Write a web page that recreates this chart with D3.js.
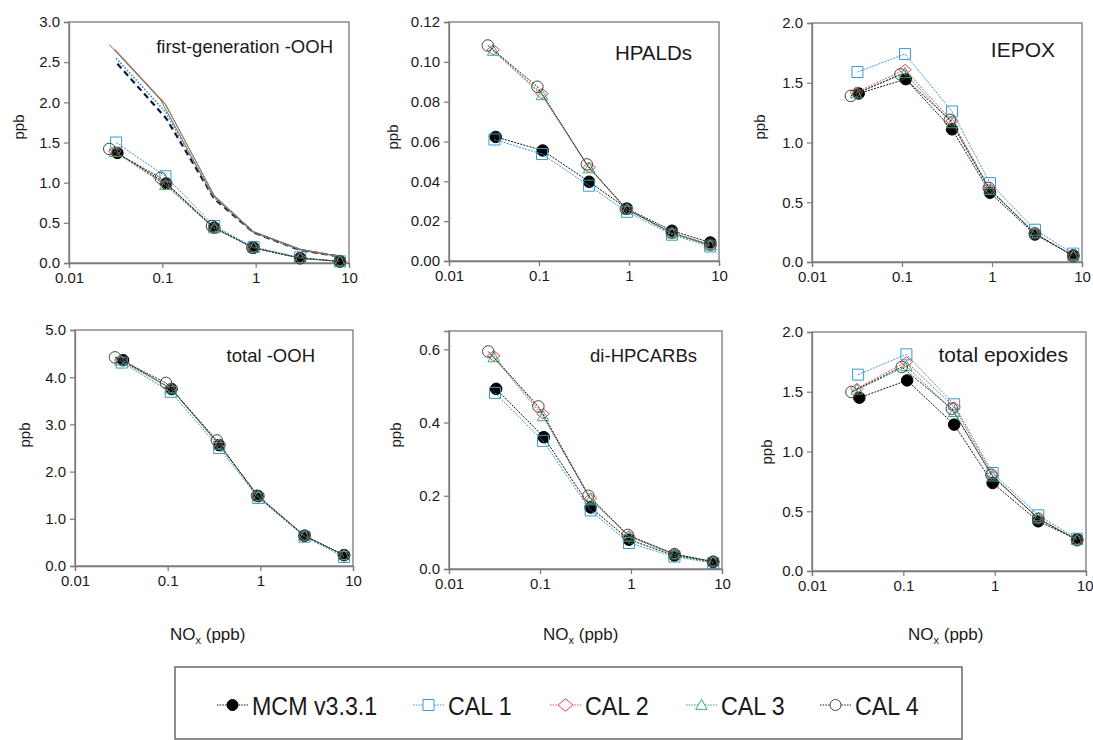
<!DOCTYPE html>
<html><head><meta charset="utf-8">
<script src="https://cdn.jsdelivr.net/npm/d3@7"></script>
<style>
body{margin:0;background:#fff}
svg{display:block}
text{font-family:"Liberation Sans",Arial,sans-serif;fill:#1a1a1a}
</style></head>
<body><svg id="c" width="1093" height="740"></svg>
<script>
// ---------- DATA ----------
const models = ["MCM v3.3.1", "CAL 1", "CAL 2", "CAL 3", "CAL 4"];
// NOx (ppb) x-values of each model's points
const noxMCM  = [0.033, 0.110, 0.36, 0.95, 3.0, 8.0];
const noxCAL1 = [0.032, 0.108, 0.36, 0.95, 3.0, 8.0];
const noxCAL2 = [0.031, 0.108, 0.36, 0.95, 3.0, 8.0];
const noxCAL3 = [0.031, 0.108, 0.36, 0.95, 3.0, 8.0];
const noxCAL4 = [0.027, 0.096, 0.34, 0.92, 3.0, 8.0];
const xTicks = [0.01, 0.1, 1, 10];
const xTickLabels = ["0.01", "0.1", "1", "10"];

const panelTitles = ["first-generation -OOH", "HPALDs", "IEPOX", "total -OOH", "di-HPCARBs", "total epoxides"];

// first-generation -OOH (with markers)
const fgOOH_MCM  = [1.37, 0.99, 0.44, 0.19, 0.06, 0.02];
const fgOOH_CAL1 = [1.50, 1.08, 0.46, 0.20, 0.07, 0.02];
const fgOOH_CAL2 = [1.39, 0.98, 0.43, 0.19, 0.06, 0.02];
const fgOOH_CAL3 = [1.38, 0.97, 0.43, 0.19, 0.06, 0.02];
const fgOOH_CAL4 = [1.42, 1.06, 0.46, 0.19, 0.06, 0.02];
// first-generation -OOH upper curves (lines only)
const fgOOHup_MCM  = [2.48, 1.80, 0.80, 0.38, 0.16, 0.08];
const fgOOHup_CAL1 = [2.55, 1.88, 0.82, 0.38, 0.16, 0.08];
const fgOOHup_CAL2 = [2.66, 1.98, 0.84, 0.39, 0.17, 0.08];
const fgOOHup_CAL3 = [2.65, 1.97, 0.84, 0.39, 0.17, 0.08];
const fgOOHup_CAL4 = [2.72, 2.03, 0.85, 0.39, 0.17, 0.08];

const hpald_MCM  = [0.0623, 0.0555, 0.0398, 0.0263, 0.0152, 0.0093];
const hpald_CAL1 = [0.0610, 0.0537, 0.0378, 0.0247, 0.0132, 0.0073];
const hpald_CAL2 = [0.1060, 0.0840, 0.0470, 0.0260, 0.0140, 0.0080];
const hpald_CAL3 = [0.1055, 0.0832, 0.0465, 0.0258, 0.0138, 0.0078];
const hpald_CAL4 = [0.1082, 0.0875, 0.0485, 0.0262, 0.0142, 0.0082];

const iepox_MCM  = [1.41, 1.53, 1.11, 0.58, 0.23, 0.055];
const iepox_CAL1 = [1.59, 1.74, 1.26, 0.66, 0.27, 0.07];
const iepox_CAL2 = [1.42, 1.61, 1.18, 0.61, 0.24, 0.05];
const iepox_CAL3 = [1.41, 1.58, 1.16, 0.60, 0.24, 0.05];
const iepox_CAL4 = [1.39, 1.57, 1.19, 0.62, 0.24, 0.05];

const totOOH_MCM  = [4.36, 3.75, 2.56, 1.48, 0.64, 0.23];
const totOOH_CAL1 = [4.31, 3.69, 2.50, 1.44, 0.62, 0.19];
const totOOH_CAL2 = [4.36, 3.77, 2.58, 1.48, 0.64, 0.23];
const totOOH_CAL3 = [4.35, 3.76, 2.57, 1.48, 0.64, 0.23];
const totOOH_CAL4 = [4.42, 3.88, 2.66, 1.49, 0.64, 0.23];

const dihp_MCM  = [0.492, 0.360, 0.168, 0.080, 0.037, 0.019];
const dihp_CAL1 = [0.481, 0.350, 0.160, 0.071, 0.034, 0.016];
const dihp_CAL2 = [0.582, 0.424, 0.193, 0.090, 0.040, 0.020];
const dihp_CAL3 = [0.578, 0.417, 0.190, 0.088, 0.040, 0.020];
const dihp_CAL4 = [0.594, 0.444, 0.200, 0.093, 0.041, 0.020];

const epox_MCM  = [1.450, 1.595, 1.225, 0.736, 0.416, 0.265];
const epox_CAL1 = [1.643, 1.813, 1.395, 0.820, 0.466, 0.270];
const epox_CAL2 = [1.526, 1.750, 1.372, 0.800, 0.440, 0.260];
const epox_CAL3 = [1.517, 1.713, 1.330, 0.790, 0.440, 0.260];
const epox_CAL4 = [1.498, 1.707, 1.358, 0.806, 0.438, 0.257];

const yDomains = [[0, 3.0], [0, 0.12], [0, 2.0], [0, 5.0], [0, 0.65], [0, 2.0]];
const yTickValues = [
  [0, 0.5, 1.0, 1.5, 2.0, 2.5, 3.0],
  [0, 0.02, 0.04, 0.06, 0.08, 0.10, 0.12],
  [0, 0.5, 1.0, 1.5, 2.0],
  [0, 1, 2, 3, 4, 5],
  [0, 0.2, 0.4, 0.6],
  [0, 0.5, 1.0, 1.5, 2.0]
];
const yTickFormats = [".1f", ".2f", ".1f", ".1f", ".1f", ".1f"];

// ---------- STYLE / LAYOUT ----------
const noxByModel = [noxMCM, noxCAL1, noxCAL2, noxCAL3, noxCAL4];
const panelSeries = [
  [fgOOH_MCM, fgOOH_CAL1, fgOOH_CAL2, fgOOH_CAL3, fgOOH_CAL4],
  [hpald_MCM, hpald_CAL1, hpald_CAL2, hpald_CAL3, hpald_CAL4],
  [iepox_MCM, iepox_CAL1, iepox_CAL2, iepox_CAL3, iepox_CAL4],
  [totOOH_MCM, totOOH_CAL1, totOOH_CAL2, totOOH_CAL3, totOOH_CAL4],
  [dihp_MCM, dihp_CAL1, dihp_CAL2, dihp_CAL3, dihp_CAL4],
  [epox_MCM, epox_CAL1, epox_CAL2, epox_CAL3, epox_CAL4]
];
const upperSeries = [fgOOHup_MCM, fgOOHup_CAL1, fgOOHup_CAL2, fgOOHup_CAL3, fgOOHup_CAL4];

const colors = ["#000000", "#3a9ad0", "#ee4455", "#33b377", "#444444"];
const lineColors = ["#111111", "#3a9ad0", "#e05050", "#30a070", "#222222"];
const shapes = ["fcircle", "square", "diamond", "triangle", "circle"];
const upperStyles = [
  {c: "#111a33", w: 2.2, d: "6,4"},
  {c: "#2a8fc8", w: 1.6, d: "1.6,1.6"},
  {c: "#c06048", w: 1, d: null},
  {c: "#70906a", w: 1, d: null},
  {c: "#906858", w: 1, d: null}
];

const layout = [
  {l: 69,  r: 349,  t: 22,  b: 263, px: 19,  py: 127, tx: 333,  ty: 53,  fs: 18.5},
  {l: 449, r: 719,  t: 22,  b: 261, px: 393, py: 137, tx: 692,  ty: 60,  fs: 20.5},
  {l: 812, r: 1082, t: 23,  b: 262, px: 760, py: 127, tx: 1055, ty: 57,  fs: 21},
  {l: 75,  r: 353,  t: 330, b: 566, px: 25,  py: 435, tx: 315,  ty: 362, fs: 18.5},
  {l: 449, r: 722,  t: 331, b: 569, px: 396, py: 435, tx: 697,  ty: 362, fs: 18.5},
  {l: 812, r: 1086, t: 332, b: 571, px: 767, py: 452, tx: 1068, ty: 362, fs: 21}
];
const xTitleX = [170, 543, 908];
const frameColor = "#7a7a7a";

const svg = d3.select("#c");

function symbolPath(shape, s) {
  const h = s / 2;
  switch (shape) {
    case "square": return `M${-h},${-h}H${h}V${h}H${-h}Z`;
    case "diamond": { const w = h * 1.15, v = h * 0.95; return `M0,${-v}L${w},0L0,${v}L${-w},0Z`; }
    case "triangle": { const w = h * 1.05; return `M0,${-h*1.05}L${w},${h*0.8}L${-w},${h*0.8}Z`; }
    default: return `M${h},0A${h},${h} 0 1,1 ${-h},0A${h},${h} 0 1,1 ${h},0Z`;
  }
}

layout.forEach((L, pi) => {
  const g = svg.append("g");
  const x = d3.scaleLog().domain([0.01, 10]).range([L.l, L.r]);
  const y = d3.scaleLinear().domain(yDomains[pi]).range([L.b, L.t]);

  g.append("rect").attr("x", L.l).attr("y", L.t).attr("width", L.r - L.l).attr("height", L.b - L.t)
    .attr("fill", "none").attr("stroke", frameColor).attr("stroke-width", 1.3);

  const xa = g.append("g").attr("transform", `translate(0,${L.b})`)
    .call(d3.axisBottom(x).tickValues(xTicks).tickFormat((d, i) => xTickLabels[i]).tickSize(5).tickPadding(4));
  const ya = g.append("g").attr("transform", `translate(${L.l},0)`)
    .call(d3.axisLeft(y).tickValues(yTickValues[pi]).tickFormat(d3.format(yTickFormats[pi])).tickSize(5).tickPadding(4));
  [xa, ya].forEach(a => {
    a.select(".domain").attr("stroke", frameColor).attr("stroke-width", 1.3);
    a.selectAll(".tick line").attr("stroke", frameColor).attr("stroke-width", 1.2);
    a.selectAll(".tick text").attr("font-size", 15).attr("fill", "#1a1a1a")
      .style("font-family", '"Liberation Sans",Arial,sans-serif');
  });
  // keep the last x label inside the page edge
  xa.selectAll(".tick text").filter(d => d === 10 && L.r + 9 > 1093).attr("text-anchor", "end").attr("dx", 7);

  g.append("text").attr("transform", `translate(${L.px + 5},${L.py}) rotate(-90)`)
    .attr("text-anchor", "middle").attr("font-size", 15).text("ppb");

  g.append("text").attr("x", L.tx).attr("y", L.ty).attr("text-anchor", "end")
    .attr("font-size", L.fs).text(panelTitles[pi]);

  const line = d3.line().x(d => x(d[0])).y(d => y(d[1]));

  if (pi === 0) {
    upperSeries.forEach((vals, mi) => {
      const pts = vals.map((v, k) => [noxByModel[mi][k], v]);
      const st = upperStyles[mi];
      g.append("path").attr("d", line(pts)).attr("fill", "none")
        .attr("stroke", st.c).attr("stroke-width", st.w).attr("stroke-dasharray", st.d);
    });
  }

  panelSeries[pi].forEach((vals, mi) => {
    const pts = vals.map((v, k) => [noxByModel[mi][k], v]);
    g.append("path").attr("d", line(pts)).attr("fill", "none")
      .attr("stroke", lineColors[mi]).attr("stroke-width", 1).attr("stroke-dasharray", "2,1.2");
    g.selectAll(null).data(pts).enter().append("path")
      .attr("transform", d => `translate(${x(d[0])},${y(d[1])})`)
      .attr("d", symbolPath(shapes[mi], shapes[mi] === "fcircle" || shapes[mi] === "circle" ? 11.5 : 11))
      .attr("fill", shapes[mi] === "fcircle" ? "#000" : "none")
      .attr("stroke", colors[mi]).attr("stroke-width", 1);
  });
});

xTitleX.forEach(xx => {
  const t = svg.append("text").attr("x", xx).attr("y", 640).attr("font-size", 17);
  t.append("tspan").text("NO");
  t.append("tspan").attr("font-size", 11).attr("dy", 4).text("x");
  t.append("tspan").attr("dy", -4).text(" (ppb)");
});

svg.append("rect").attr("x", 175).attr("y", 667).attr("width", 787).attr("height", 72)
  .attr("fill", "#fff").attr("stroke", "#6a6a6a").attr("stroke-width", 1.5);
const legX = [217, 413, 550, 686, 820];
models.forEach((m, i) => {
  const g = svg.append("g").attr("transform", `translate(${legX[i]},705)`);
  g.append("line").attr("x1", 0).attr("x2", 31).attr("stroke", lineColors[i]).attr("stroke-width", 1)
    .attr("stroke-dasharray", "1.5,1.2");
  g.append("path").attr("transform", "translate(15.5,0)")
    .attr("d", symbolPath(shapes[i], shapes[i] === "diamond" ? 13 : 11))
    .attr("fill", shapes[i] === "fcircle" ? "#000" : "#fff").attr("stroke", colors[i]).attr("stroke-width", 1);
  g.append("text").attr("transform", "translate(35,10) scale(0.93,1)").attr("font-size", 25)
    .text(m);
});
</script></body></html>
